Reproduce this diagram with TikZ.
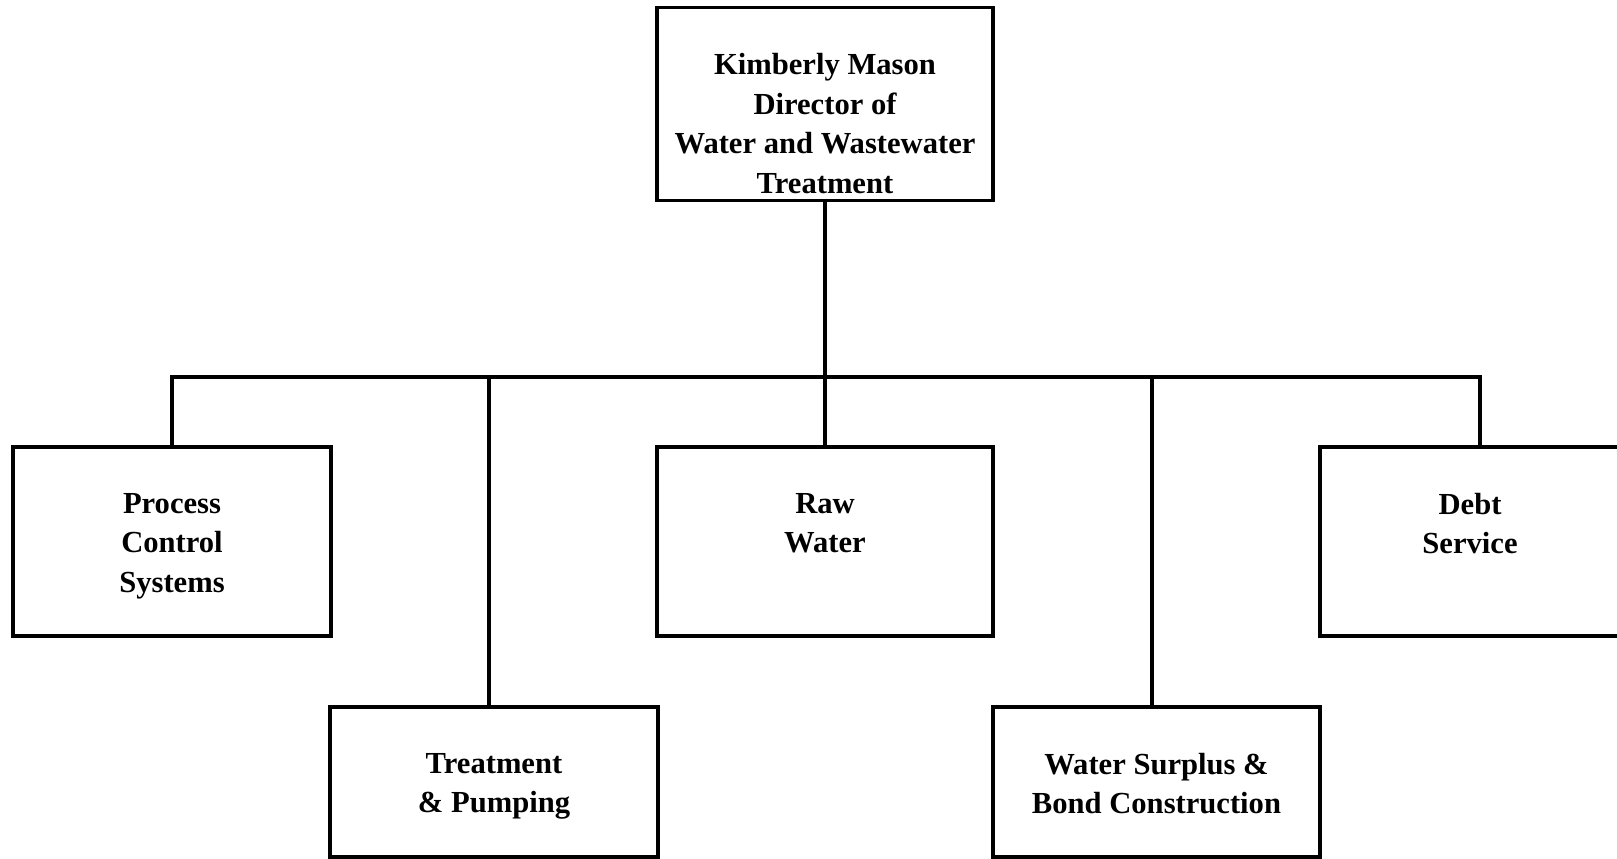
\documentclass[tikz,border=0pt]{standalone}
\usepackage{fontspec}
\setmainfont{Liberation Serif}
\begin{document}
\begin{tikzpicture}[x=1pt,y=-1pt,
  unitbox/.style={draw=black,line width=3.2pt,fill=white,rectangle,inner sep=0pt},
  unitlabel/.style={anchor=north,inner sep=0pt,align=center,
    font=\fontsize{30.6}{39.5}\selectfont\bfseries},
  link/.style={draw=black,line width=3.2pt}]
\useasboundingbox (0,0) rectangle (1617,859);
\clip (0,0) rectangle (1617,859);
\fill[white] (0,0) rectangle (1617,859);

% boxes
\node[unitbox,minimum width=336pt,minimum height=193pt] (top)   at (825,104)    {};
\node[unitbox,minimum width=318pt,minimum height=189pt] (proc)  at (172,541.5)  {};
\node[unitbox,minimum width=336pt,minimum height=189pt] (raw)   at (825,541.5)  {};
\node[unitbox,minimum width=320pt,minimum height=189pt] (debt)  at (1480,541.5) {};
\node[unitbox,minimum width=328pt,minimum height=150pt] (treat) at (494,782)    {};
\node[unitbox,minimum width=327pt,minimum height=150pt] (surp)  at (1156.5,782) {};

% labels
\node[unitlabel] (top-t)   at ([yshift=-47.5pt]top.north)   {Kimberly Mason\\Director of\\Water and Wastewater\\Treatment};
\node[unitlabel] (proc-t)  at ([yshift=-47.5pt]proc.north)  {Process\\Control\\Systems};
\node[unitlabel] (raw-t)   at ([yshift=-47.5pt]raw.north)   {Raw\\Water};
\node[unitlabel] (debt-t)  at ([yshift=-47.5pt,xshift=-10pt]debt.north)  {Debt\\Service};
\node[unitlabel] (treat-t) at ([yshift=-47.5pt]treat.north) {Treatment\\\& Pumping};
\node[unitlabel] (surp-t)  at ([yshift=-47.5pt]surp.north)  {Water Surplus \&\\Bond Construction};

% connectors
\coordinate (bus) at (825,377);
\coordinate (treat-in) at ([xshift=-5pt]treat.north);
\coordinate (surp-in) at ([xshift=-4.5pt]surp.north);
\draw[link] (top.south) -- (bus);
\draw[link] (proc.north) -- (proc.north |- bus) -- (debt.north |- bus) -- (debt.north);
\draw[link] (raw.north) -- (raw.north |- bus);
\draw[link] (treat-in) -- (treat-in |- bus);
\draw[link] (surp-in) -- (surp-in |- bus);
\end{tikzpicture}
\end{document}
